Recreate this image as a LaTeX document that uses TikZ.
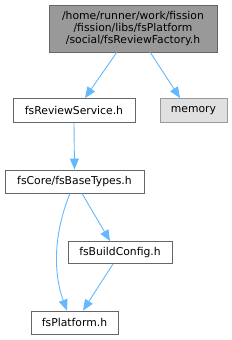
\documentclass[tikz,border=0pt]{standalone}
\usepackage{fontspec}
\setmainfont{DejaVu Sans}
\usetikzlibrary{arrows.meta}
\definecolor{edgeblue}{HTML}{63B8FF}
\definecolor{boxborder}{HTML}{666666}
\definecolor{topfill}{HTML}{999999}
\definecolor{memfill}{HTML}{E0E0E0}
\definecolor{memborder}{HTML}{999999}
\begin{document}
\begin{tikzpicture}[x=1pt,y=-1pt,
  filebox/.style={draw=boxborder, fill=white, line width=0.9pt, inner sep=0pt, font=\fontsize{10.8}{12}\selectfont},
  edge/.style={draw=edgeblue, line width=0.9pt, -{Triangle[length=11pt,width=9pt]}}]
\useasboundingbox (0,0) rectangle (232,340);
\node[filebox, fill=topfill, minimum width=168pt, minimum height=47pt, align=center] (top) at (133,28.5)
  {/home/runner/work/fission\\/fission/libs/fsPlatform\\/social/fsReviewFactory.h};
\node[filebox, minimum width=122pt, minimum height=24pt] (rev) at (74,110.5) {fsReviewService.h};
\node[filebox, draw=memborder, fill=memfill, minimum width=67pt, minimum height=24pt] (mem) at (193.5,110.5) {memory};
\node[filebox, minimum width=139pt, minimum height=23pt] (base) at (74.5,181.5) {fsCore/fsBaseTypes.h};
\node[filebox, minimum width=104pt, minimum height=22pt] (build) at (120,252.5) {fsBuildConfig.h};
\node[filebox, minimum width=87pt, minimum height=23pt] (plat) at (74.5,322.5) {fsPlatform.h};
\draw[edge] (117,52) -- (rev.north -| 85,0);
\draw[edge] (150,52) -- (mem.north -| 180,0);
\draw[edge] (rev.south) -- (base.north);
\draw[edge] (base.south -| 70,0) .. controls (55,230) and (52,270) .. (plat.north -| 67,0);
\draw[edge] (base.south -| 82,0) -- (build.north -| 110,0);
\draw[edge] (build.south -| 113,0) -- (plat.north -| 83,0);
\end{tikzpicture}
\end{document}
